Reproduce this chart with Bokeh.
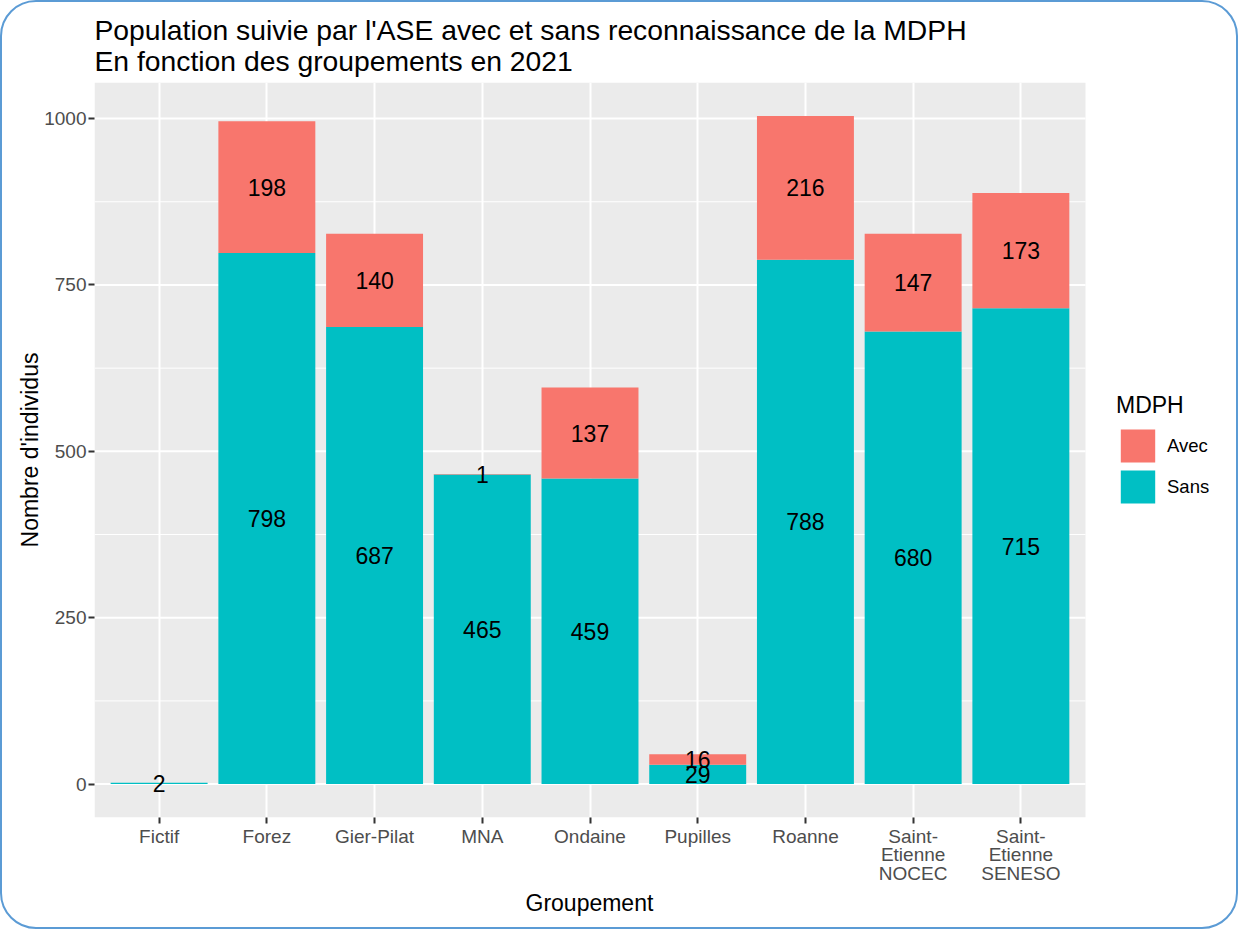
from bokeh.plotting import figure
from bokeh.models import (Range1d, FixedTicker, Legend, LegendItem, Title,
                          ColumnDataSource, BoxAnnotation)
from bokeh.core.properties import value
from bokeh.embed import file_html
from bokeh.resources import INLINE

categories = ["Fictif", "Forez", "Gier-Pilat", "MNA", "Ondaine", "Pupilles",
              "Roanne", "Saint-\nEtienne\nNOCEC", "Saint-\nEtienne\nSENESO"]
sans = [2, 798, 687, 465, 459, 29, 788, 680, 715]
avec = [None, 198, 140, 1, 137, 16, 216, 147, 173]
y_major = [0, 250, 500, 750, 1000]
y_minor = [125, 375, 625, 875]

COL_AVEC = "#F8766D"
COL_SANS = "#00BFC4"
FONT = "Liberation Sans"

pos = list(range(1, len(categories) + 1))
avec0 = [a if a is not None else 0 for a in avec]
top_all = [s + a for s, a in zip(sans, avec0)]

x_lo = 0.4
x_hi = len(categories) + 0.6
px_per_unit = 991 / (x_hi - x_lo)
FRAME_W = 1142
y_lo = -0.05 * max(top_all)
y_hi = max(top_all) * 1.05

p = figure(frame_width=FRAME_W, frame_height=735, output_backend="svg", toolbar_location=None,
           x_range=Range1d(x_lo, x_lo + FRAME_W / px_per_unit),
           y_range=Range1d(y_lo, y_hi),
           min_border_left=92, min_border_right=0, min_border_top=80, min_border_bottom=110,
           title="Population suivie par l'ASE avec et sans reconnaissance de la MDPH\nEn fonction des groupements en 2021")
p.styles = {"border": "2px solid #5B9BD5", "border-radius": "36px"}
p.border_fill_color = None
p.background_fill_color = None
p.outline_line_color = None

p.add_layout(BoxAnnotation(left=x_lo, right=x_hi, fill_color="#EBEBEB", fill_alpha=1,
                           line_color=None, level="image"))

p.title.text_font = FONT
p.title.text_font_size = "28.3px"
p.title.text_font_style = "normal"
p.title.text_color = "black"
p.title.text_line_height = 0.97
p.title.offset = 0
p.title.standoff = 10

# horizontal grid lines limited to the panel
p.segment(x0=[x_lo] * len(y_minor), x1=[x_hi] * len(y_minor), y0=y_minor, y1=y_minor,
          line_color="white", line_width=1, level="underlay")
p.segment(x0=[x_lo] * len(y_major), x1=[x_hi] * len(y_major), y0=y_major, y1=y_major,
          line_color="white", line_width=2, level="underlay")

src = ColumnDataSource(dict(x=pos, sans=sans, top=top_all))
r_sans = p.vbar(x="x", bottom=0, top="sans", width=0.9, source=src,
                fill_color=COL_SANS, line_color=None)
r_avec = p.vbar(x="x", bottom="sans", top="top", width=0.9, source=src,
                fill_color=COL_AVEC, line_color=None)

lx, ly, lt = [], [], []
for c, s, a in zip(pos, sans, avec):
    lx.append(c); ly.append(s / 2); lt.append(str(s))
    if a is not None:
        lx.append(c); ly.append(s + a / 2); lt.append(str(a))
p.text(x=lx, y=ly, text=lt, text_align="center", text_baseline="middle",
       text_font=value(FONT), text_font_size="23px", text_color="black")

p.xaxis.ticker = FixedTicker(ticks=pos)
p.xgrid.ticker = FixedTicker(ticks=pos)
p.xaxis.major_label_overrides = {i: c for i, c in zip(pos, categories)}
p.yaxis.ticker = FixedTicker(ticks=y_major)
p.ygrid.grid_line_color = None
p.xgrid.grid_line_color = "white"
p.xgrid.grid_line_width = 2

for ax in (p.xaxis, p.yaxis):
    ax.axis_line_color = None
    ax.major_tick_line_color = "#333333"
    ax.major_tick_line_width = 2
    ax.major_tick_out = 6
    ax.major_tick_in = 0
    ax.minor_tick_line_color = None
    ax.major_label_text_font = FONT
    ax.major_label_text_font_size = "19px"
    ax.major_label_text_color = "#4D4D4D"
    ax.major_label_standoff = 2
    ax.axis_label_text_font = FONT
    ax.axis_label_text_font_size = "23px"
    ax.axis_label_text_font_style = "normal"
    ax.axis_label_text_color = "black"

p.xaxis.major_label_text_line_height = 0.9
p.yaxis.axis_label = "Nombre d'individus"
p.yaxis.axis_label_standoff = -2

xlab = Title(text="Groupement", align="left", offset=431, standoff=0,
             text_font=FONT, text_font_size="23px", text_font_style="normal", text_color="black")
p.add_layout(xlab, "below")

legend = Legend(items=[LegendItem(label="Avec", renderers=[r_avec]),
                       LegendItem(label="Sans", renderers=[r_sans])],
                title="MDPH", location=(1022, 310))
legend.title_text_font = FONT
legend.title_text_font_size = "23px"
legend.title_text_font_style = "normal"
legend.title_text_color = "black"
legend.title_standoff = 6
legend.label_text_font = FONT
legend.label_text_font_size = "18.5px"
legend.label_text_color = "black"
legend.glyph_width = 43
legend.glyph_height = 41
legend.label_height = 41
legend.spacing = 0
legend.label_standoff = 8
legend.margin = 0
legend.padding = 10
legend.border_line_color = None
legend.background_fill_color = None
p.add_layout(legend, "center")

html = file_html(p, INLINE)
html = html.replace("<body>", "<body style=\"margin:0\">", 1)
open("out.html", "w").write(html)
